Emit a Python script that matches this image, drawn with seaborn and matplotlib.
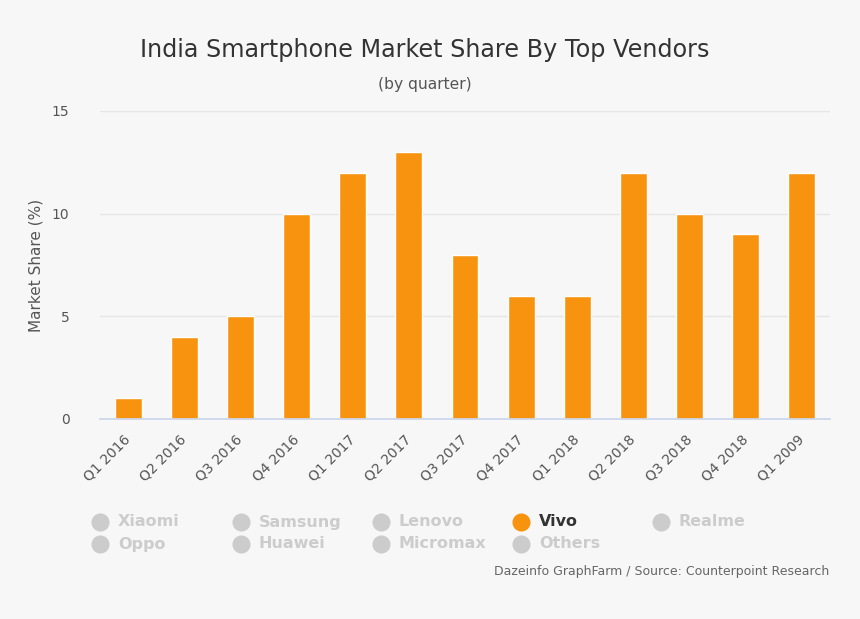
import matplotlib
matplotlib.use("Agg")
import matplotlib.pyplot as plt
import seaborn as sns
import pandas as pd

quarters = ["Q1 2016", "Q2 2016", "Q3 2016", "Q4 2016", "Q1 2017", "Q2 2017", "Q3 2017",
            "Q4 2017", "Q1 2018", "Q2 2018", "Q3 2018", "Q4 2018", "Q1 2009"]
vivo_share = [1, 4, 5, 10, 12, 13, 8, 6, 6, 12, 10, 9, 12]
vendors_row1 = ["Xiaomi", "Samsung", "Lenovo", "Vivo", "Realme"]
vendors_row2 = ["Oppo", "Huawei", "Micromax", "Others"]
active_vendor = "Vivo"

BG = "#f7f7f7"
ORANGE = "#f7930f"
GREY_TXT = "#555555"
HIDDEN = "#cccccc"

sns.set_theme(style="white")
plt.rcParams["font.family"] = ["DejaVu Sans"]

df = pd.DataFrame({"quarter": quarters, "share": vivo_share})

fig = plt.figure(figsize=(8.6, 6.19), dpi=100, facecolor=BG)
ax = fig.add_axes([100 / 860, 1 - 419 / 619, 730 / 860, 308 / 619], facecolor=BG)

sns.barplot(data=df, x="quarter", y="share", color=ORANGE, saturation=1, width=0.48, ax=ax)

ax.set_ylim(0, 15)
ax.set_yticks([0, 5, 10, 15])
ax.grid(axis="y", color="#e6e6e6", linewidth=1)
ax.set_axisbelow(True)
for s in ["top", "right", "left"]:
    ax.spines[s].set_visible(False)
ax.spines["bottom"].set_color("#ccd6eb")
ax.tick_params(axis="y", length=0, labelsize=10, labelcolor=GREY_TXT, pad=22)
ax.tick_params(axis="x", length=0, labelsize=10, labelcolor=GREY_TXT, pad=13)
plt.setp(ax.get_xticklabels(), rotation=45, ha="right", va="center", rotation_mode="anchor")
ax.set_xlabel("")
ax.set_ylabel("Market Share (%)", fontsize=11, color=GREY_TXT, labelpad=6)

fig.text(425 / 860, 1 - 50 / 619, "India Smartphone Market Share By Top Vendors",
         ha="center", va="center", fontsize=17.2, color="#333333")
fig.text(425 / 860, 1 - 84 / 619, "(by quarter)",
         ha="center", va="center", fontsize=11.2, color=GREY_TXT)

# legend drawn by hand, grid of vendor names
col_x = [100, 241, 381, 521, 661]
for row_y, names in [(522, vendors_row1), (544, vendors_row2)]:
    for cx, name in zip(col_x, names):
        on = name == active_vendor
        fig.lines.append(plt.Line2D([cx / 860], [1 - row_y / 619], transform=fig.transFigure,
                                    marker="o", markersize=12, color=ORANGE if on else HIDDEN,
                                    linestyle="none"))
        fig.text((cx + 18) / 860, 1 - row_y / 619, name, ha="left", va="center",
                 fontsize=11.5, fontweight="bold", color="#333333" if on else HIDDEN)

fig.text(829 / 860, 1 - 571 / 619, "Dazeinfo GraphFarm / Source: Counterpoint Research",
         ha="right", va="center", fontsize=9, color="#666666")

fig.savefig("out.png", dpi=100, facecolor=BG)
